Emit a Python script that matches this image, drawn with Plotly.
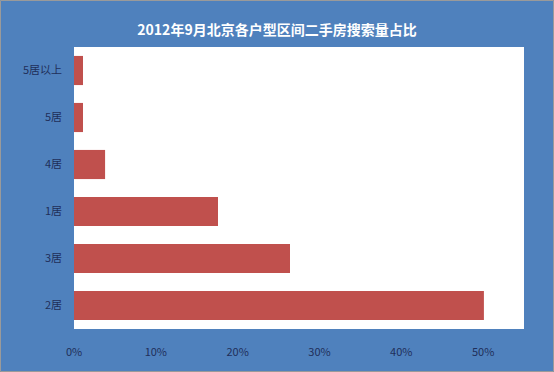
import plotly.graph_objects as go

categories = ["2居", "3居", "1居", "4居", "5居", "5居以上"]
values = [0.501, 0.264, 0.176, 0.038, 0.011, 0.011]
tick_vals = [0, 0.1, 0.2, 0.3, 0.4, 0.5]
tick_text = ["0%", "10%", "20%", "30%", "40%", "50%"]
title = "2012年9月北京各户型区间二手房搜索量占比"

W, H = 554, 372
ml, mr, mt, mb = 74, 30, 47, 43
pw, ph = W - ml - mr, H - mt - mb

fig = go.Figure(go.Bar(
    x=values, y=categories, orientation="h",
    marker=dict(color="#C0504D", line=dict(width=0)),
    width=0.62,
))

fig.update_layout(
    width=W, height=H,
    margin=dict(l=ml, r=mr, t=mt, b=mb, autoexpand=False),
    paper_bgcolor="#4F81BD",
    plot_bgcolor="#FFFFFF",
    showlegend=False,
    title=dict(text="<b>" + title + "</b>", x=0.5, xanchor="center",
               y=1 - 30 / H, yanchor="middle",
               font=dict(family="Noto Sans CJK SC", size=14, color="#FFFFFF")),
    font=dict(family="Noto Sans CJK SC", size=11, color="#1F2F5A"),
)
fig.update_xaxes(range=[0, 0.55], tickvals=tick_vals, ticktext=tick_text,
                 showgrid=False, zeroline=False, showline=False,
                 ticklabelstandoff=15, fixedrange=True, automargin=False)
fig.update_yaxes(categoryorder="array", categoryarray=categories,
                 showgrid=False, zeroline=False, showline=False,
                 ticklabelstandoff=11, fixedrange=True, automargin=False)

fig.add_shape(type="rect", xref="paper", yref="paper",
              x0=-ml / pw + 0.5 / pw, x1=1 + mr / pw - 0.5 / pw,
              y0=-mb / ph + 0.5 / ph, y1=1 + mt / ph - 0.5 / ph,
              line=dict(color="#9A9A9A", width=1), layer="above")

fig.write_html("out.html", config={"displayModeBar": False, "staticPlot": True},
               post_script="document.body.style.margin='0';")
